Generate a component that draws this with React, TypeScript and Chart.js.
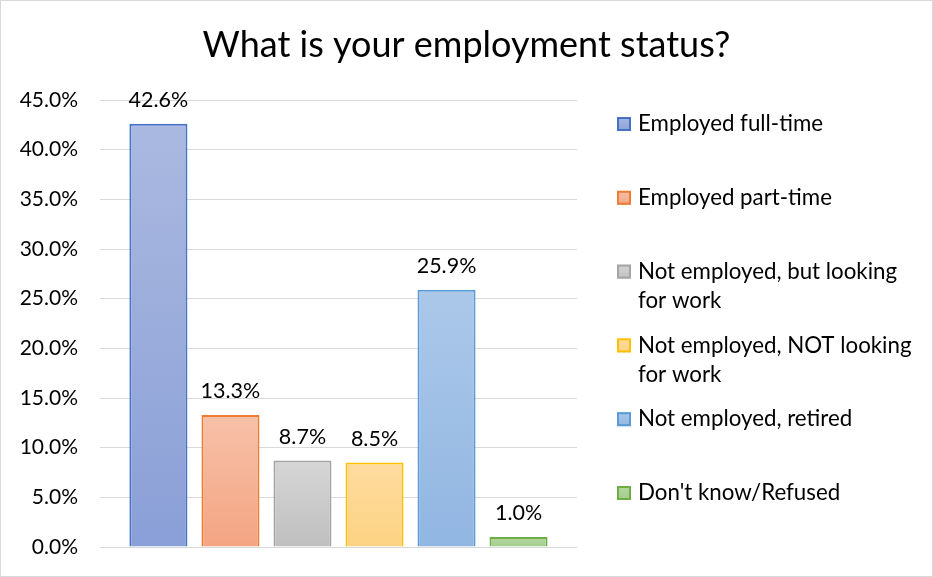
import React, { useEffect, useRef } from "react";
import { Chart, registerables } from "chart.js";

Chart.register(...registerables);

const TITLE = "What is your employment status?";
const categories = [
  "Employed full-time",
  "Employed part-time",
  "Not employed, but looking for work",
  "Not employed, NOT looking for work",
  "Not employed, retired",
  "Don't know/Refused",
];
const values = [42.6, 13.3, 8.7, 8.5, 25.9, 1.0];
const yTicks = [0, 5, 10, 15, 20, 25, 30, 35, 40, 45];
const borderColors = ["#4472c4", "#ed7d31", "#a5a5a5", "#ffc000", "#5b9bd5", "#70ad47"];
const topColors = ["#aab9e0", "#f7c1a9", "#d6d6d6", "#fedc9f", "#abc8e9", "#b4d8a2"];
const bottomColors = ["#8a9fd7", "#f4a482", "#bfbfbf", "#fdd283", "#91b6e2", "#a2cd8c"];

const FONT = "Lato, 'Open Sans', sans-serif";

function barGradient(ctx: any, i: number) {
  const chart = ctx.chart;
  const area = chart.chartArea;
  if (!area) return topColors[i];
  const ys = chart.scales.y;
  const top = ys.getPixelForValue(values[i]);
  const bottom = ys.getPixelForValue(0);
  const g = chart.ctx.createLinearGradient(0, top, 0, bottom);
  g.addColorStop(0, topColors[i]);
  g.addColorStop(1, bottomColors[i]);
  return g;
}

const titlePlugin = {
  id: "centerTitle",
  afterDraw(chart: any) {
    const c = chart.ctx;
    c.save();
    c.font = `36px ${FONT}`;
    c.fillStyle = "#000";
    c.textAlign = "center";
    c.textBaseline = "middle";
    c.fillText(TITLE, chart.width / 2, 45);
    c.restore();
  },
};

const labelsPlugin = {
  id: "valueLabels",
  afterDatasetsDraw(chart: any) {
    const c = chart.ctx;
    c.save();
    c.font = `21.5px ${FONT}`;
    c.fillStyle = "#000";
    c.textAlign = "center";
    c.textBaseline = "middle";
    chart.data.datasets.forEach((ds: any, i: number) => {
      const meta = chart.getDatasetMeta(i);
      const el = meta.data[0];
      if (!el) return;
      c.fillText(values[i].toFixed(1) + "%", el.x, el.y - 24);
    });
    c.restore();
  },
};

const legendPlugin = {
  id: "sideLegend",
  afterDraw(chart: any) {
    const c = chart.ctx;
    const area = chart.chartArea;
    c.save();
    c.font = `22.3px ${FONT}`;
    c.textBaseline = "middle";
    c.textAlign = "left";
    const boxX = area.right + 40;
    const textX = boxX + 21;
    const maxW = 275;
    const startY = area.top + 24;
    const step = 73.8;
    const lineH = 29;
    categories.forEach((label, i) => {
      const y = startY + i * step;
      const g = c.createLinearGradient(0, y - 7, 0, y + 7);
      g.addColorStop(0, topColors[i]);
      g.addColorStop(1, bottomColors[i]);
      c.fillStyle = g;
      c.fillRect(boxX, y - 7, 14, 14);
      c.strokeStyle = borderColors[i];
      c.lineWidth = 2;
      c.strokeRect(boxX + 1, y - 6, 12, 12);
      const words = label.split(" ");
      const lines: string[] = [];
      let cur = "";
      words.forEach((w) => {
        const t = cur ? cur + " " + w : w;
        if (c.measureText(t).width > maxW && cur) {
          lines.push(cur);
          cur = w;
        } else cur = t;
      });
      if (cur) lines.push(cur);
      c.fillStyle = "#000";
      lines.forEach((ln, k) => c.fillText(ln, textX, y + k * lineH));
    });
    c.restore();
  },
};

export default function App() {
  const ref = useRef<HTMLCanvasElement | null>(null);
  useEffect(() => {
    document.body.style.margin = "0";
    const canvas = ref.current!;
    const chart = new Chart(canvas, {
      type: "bar",
      data: {
        labels: [""],
        datasets: categories.map((name, i) => ({
          label: name,
          data: [values[i]],
          backgroundColor: (ctx: any) => barGradient(ctx, i),
          borderColor: borderColors[i],
          borderWidth: 2,
          categoryPercentage: 0.906,
          barPercentage: 0.806,
        })),
      },
      options: {
        animation: false,
        responsive: false,
        maintainAspectRatio: false,
        layout: { padding: { left: 0, right: 356, top: 100, bottom: 30 } },
        plugins: {
          legend: { display: false },
          tooltip: { enabled: false },
          title: { display: false },
        },
        scales: {
          x: { display: false },
          y: {
            min: 0,
            max: 45,
            afterBuildTicks: (s: any) => {
              s.ticks = yTicks.map((v) => ({ value: v }));
            },
            afterFit: (s: any) => {
              s.width = 100;
              s.paddingTop = 12;
              s.paddingBottom = 12;
            },
            border: { display: false },
            grid: { color: "#d9d9d9", lineWidth: 1, drawTicks: false },
            ticks: {
              color: "#000",
              padding: 22,
              font: { family: FONT, size: 21 },
              callback: (v: any) => Number(v).toFixed(1) + "%",
            },
          },
        },
      },
      plugins: [labelsPlugin, legendPlugin, titlePlugin],
    });
    return () => chart.destroy();
  }, []);
  return (
    <div style={{ position: "relative", width: 933, height: 577, background: "#fff" }}>
      <canvas ref={ref} width={933} height={577} style={{ display: "block" }} />
      <div
        style={{
          position: "absolute",
          left: 0,
          top: 0,
          width: 931,
          height: 575,
          border: "1px solid #d9d9d9",
          pointerEvents: "none",
        }}
      />
    </div>
  );
}
